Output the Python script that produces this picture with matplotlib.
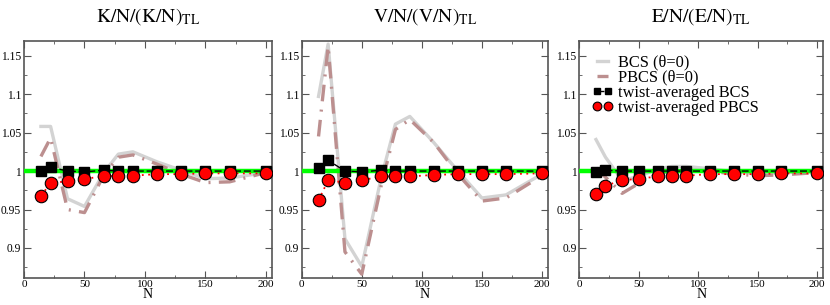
import numpy as np
import matplotlib
matplotlib.use('Agg')
import matplotlib.pyplot as plt
import matplotlib.ticker as mticker

plt.rcParams['font.family'] = ['Liberation Serif', 'DejaVu Serif']
plt.rcParams['mathtext.fontset'] = 'stix'

# particle numbers
N = [14, 22, 36, 50, 66, 78, 90, 110, 130, 150, 170, 200]

# kinetic energy ratio
bcs_k = [1.058, 1.058, 0.964, 0.954, 0.998, 1.022, 1.025, 1.012, 1.001, 0.990, 0.991, 0.998]
pbcs_k = [1.019, 1.043, 0.950, 0.946, 0.995, 1.018, 1.021, 1.009, 0.996, 0.985, 0.986, 0.998]
tabcs_k = [1.000, 1.005, 1.000, 0.999, 1.001, 1.000, 1.000, 1.000, 1.000, 1.000, 1.000, 1.000]
tapbcs_k = [0.968, 0.984, 0.987, 0.990, 0.993, 0.994, 0.994, 0.996, 0.996, 0.997, 0.997, 0.997]

# potential energy ratio
bcs_v = [1.097, 1.165, 0.912, 0.876, 0.990, 1.061, 1.071, 1.037, 1.000, 0.965, 0.969, 0.996]
pbcs_v = [1.045, 1.162, 0.895, 0.866, 0.980, 1.054, 1.067, 1.037, 0.996, 0.961, 0.965, 0.994]
tabcs_v = [1.004, 1.014, 1.000, 0.999, 1.001, 1.000, 1.000, 1.000, 1.000, 1.000, 1.000, 1.000]
tapbcs_v = [0.962, 0.988, 0.985, 0.988, 0.993, 0.993, 0.993, 0.995, 0.996, 0.996, 0.996, 0.997]

# total energy ratio
bcs_e = [1.041, 1.018, 0.988, 0.993, 1.003, 1.006, 1.006, 1.003, 0.999, 0.997, 0.998, 0.999]
pbcs_e = [1.004, 0.992, 0.971, 0.984, 0.997, 1.000, 1.001, 1.000, 0.996, 0.994, 0.995, 0.998]
tabcs_e = [0.999, 1.001, 1.000, 1.000, 1.000, 1.000, 1.000, 1.000, 1.000, 1.000, 1.000, 1.000]
tapbcs_e = [0.970, 0.981, 0.988, 0.990, 0.993, 0.994, 0.994, 0.996, 0.996, 0.996, 0.997, 0.997]

titles = [r'$\mathrm{K/N/(K/N)_{TL}}$', r'$\mathrm{V/N/(V/N)_{TL}}$', r'$\mathrm{E/N/(E/N)_{TL}}$']
panels = [(bcs_k, pbcs_k, tabcs_k, tapbcs_k),
          (bcs_v, pbcs_v, tabcs_v, tapbcs_v),
          (bcs_e, pbcs_e, tabcs_e, tapbcs_e)]

fig = plt.figure(figsize=(8.3, 3.05), dpi=100)
boxes = [(0.0289, 0.0885, 0.2988, 0.777),
         (0.3635, 0.0885, 0.2967, 0.777),
         (0.6980, 0.0885, 0.2936, 0.777)]

spine_col = '#555555'
for i, (box, title, (bcs, pbcs, tabcs, tapbcs)) in enumerate(zip(boxes, titles, panels)):
    ax = fig.add_axes(box)
    ax.plot(N, bcs, color='#d3d3d3', lw=2.4, label='BCS (θ=0)', zorder=2)
    ax.plot(N, pbcs, color='#bc8f8f', lw=2.4, linestyle=(0, (5, 2.5, 0.6, 2.5)),
            label='PBCS (θ=0)', zorder=2)
    ax.axhline(1.0, color='#00ff00', lw=3.2, zorder=3)
    ax.plot(N, tabcs, color='black', lw=1.0, linestyle=(0, (5, 2)), marker='s', ms=7,
            mfc='black', mec='black', label='twist-averaged BCS', zorder=4)
    ax.plot(N, tapbcs, color='red', lw=1.3, linestyle=(0, (1, 2.5)), marker='o', ms=9,
            mfc='red', mec='black', mew=0.8, zorder=5)
    ax.plot([], [], color='red', linestyle='none', marker='o', ms=9,
            mfc='red', mec='black', mew=0.8, label='twist-averaged PBCS')

    ax.set_xlim(0, 205)
    ax.set_ylim(0.861, 1.169)
    ax.xaxis.set_major_locator(mticker.MultipleLocator(50))
    ax.xaxis.set_minor_locator(mticker.MultipleLocator(25))
    ax.yaxis.set_major_locator(mticker.FixedLocator([0.9, 0.95, 1.0, 1.05, 1.1, 1.15]))
    ax.yaxis.set_minor_locator(mticker.FixedLocator([0.875, 0.925, 0.975, 1.025, 1.075, 1.125]))
    ax.yaxis.set_major_formatter(mticker.FuncFormatter(lambda y, _: f'{y:g}'))
    ax.tick_params(which='both', direction='in', top=True, right=True, color=spine_col,
                   labelsize=8.3, pad=2)
    ax.tick_params(axis='x', pad=1.5, labelsize=8)
    ax.tick_params(which='major', length=5)
    ax.tick_params(which='minor', length=2.5)
    for sp in ax.spines.values():
        sp.set_color(spine_col)
        sp.set_linewidth(1.2)
    ax.set_xlabel('N', fontsize=10, labelpad=-0.5)
    ax.set_title(title, fontsize=14, pad=14)

    if i == 2:
        ax.legend(loc='upper left', bbox_to_anchor=(0.025, 0.97), frameon=False, fontsize=11.8,
                  handlelength=1.3, handletextpad=0.3, numpoints=2, labelspacing=-0.05,
                  borderpad=0.2, borderaxespad=0.2, markerscale=0.7)

fig.savefig('out.png', dpi=100)
